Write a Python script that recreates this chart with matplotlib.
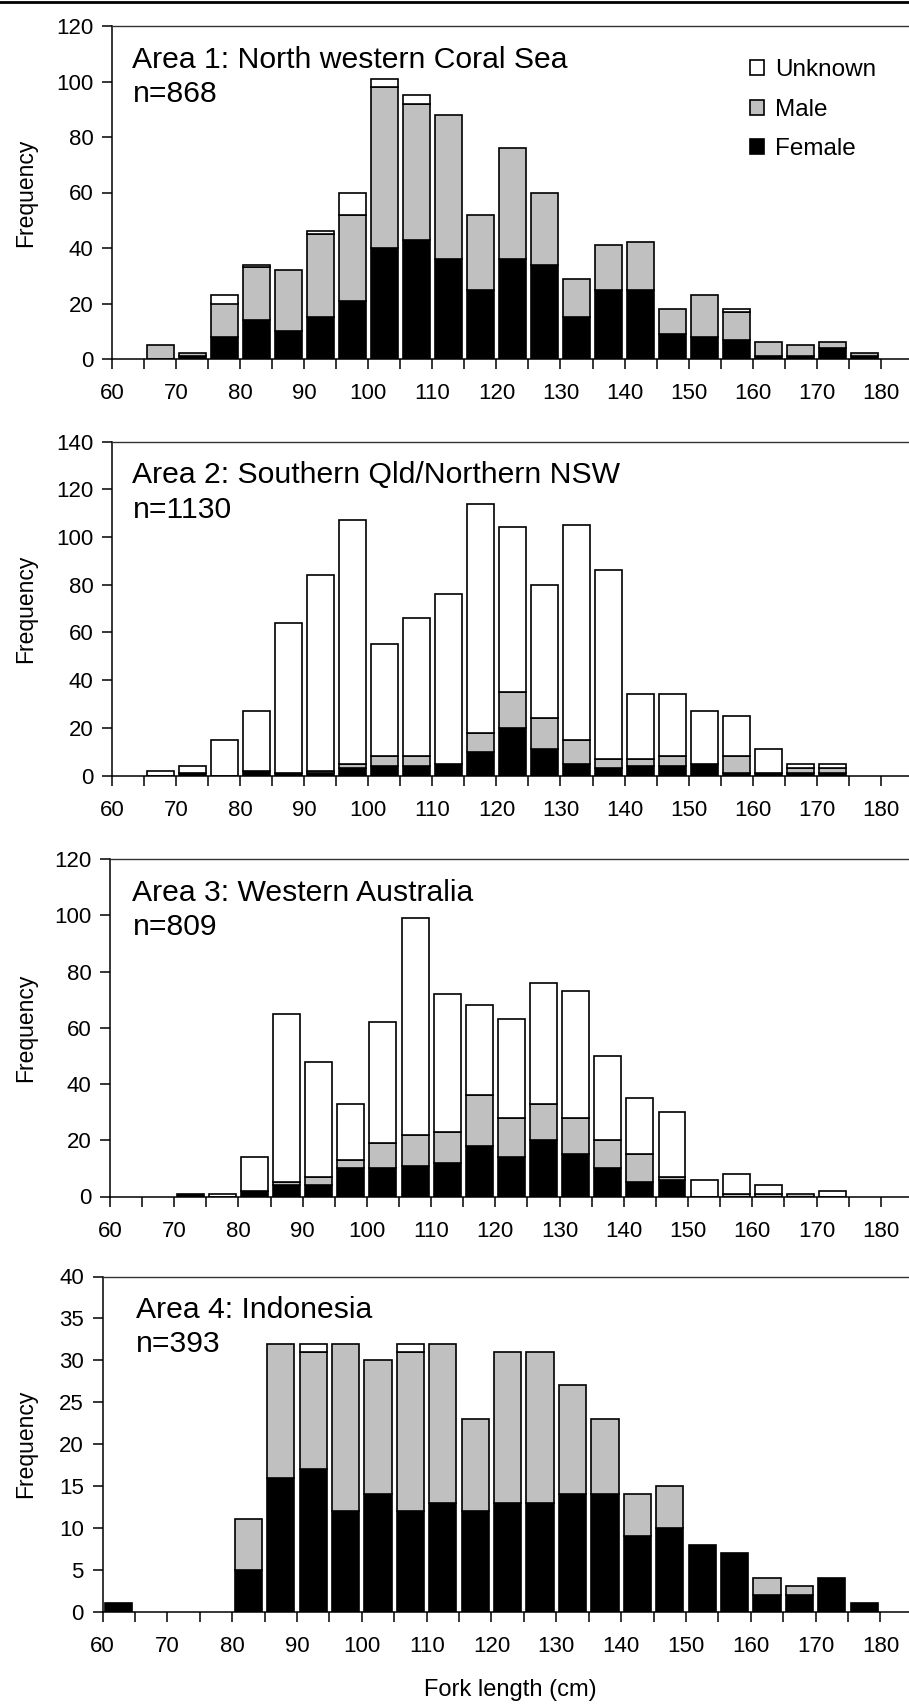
import numpy as np
import matplotlib.pyplot as plt
from matplotlib.patches import Patch
from matplotlib.lines import Line2D

plt.rcParams['font.family'] = ['Liberation Sans', 'DejaVu Sans']

# lower edge of each 5 cm fork length class
classes = [60, 65, 70, 75, 80, 85, 90, 95, 100, 105, 110, 115,
           120, 125, 130, 135, 140, 145, 150, 155, 160, 165, 170, 175]

# Area 1: North western Coral Sea
female1 = [0, 0, 1, 8, 14, 10, 15, 21, 40, 43, 36, 25, 36, 34, 15, 25, 25, 9, 8, 7, 1, 1, 4, 1]
male1 = [0, 5, 1, 12, 19, 22, 30, 31, 58, 49, 52, 27, 40, 26, 14, 16, 17, 9, 15, 10, 5, 4, 2, 1]
unknown1 = [0, 0, 0, 3, 1, 0, 1, 8, 3, 3, 0, 0, 0, 0, 0, 0, 0, 0, 0, 1, 0, 0, 0, 0]

# Area 2: Southern Qld/Northern NSW
female2 = [0, 0, 1, 0, 2, 1, 1, 3, 4, 4, 5, 10, 20, 11, 5, 3, 4, 4, 5, 1, 1, 1, 1, 0]
male2 = [0, 0, 0, 0, 0, 0, 1, 2, 4, 4, 0, 8, 15, 13, 10, 4, 3, 4, 0, 7, 0, 2, 2, 0]
unknown2 = [0, 2, 3, 15, 25, 63, 82, 102, 47, 58, 71, 96, 69, 56, 90, 79, 27, 26, 22, 17, 10, 2, 2, 0]

# Area 3: Western Australia
female3 = [0, 0, 1, 0, 2, 4, 4, 10, 10, 11, 12, 18, 14, 20, 15, 10, 5, 6, 0, 0, 0, 0, 0, 0]
male3 = [0, 0, 0, 0, 0, 1, 3, 3, 9, 11, 11, 18, 14, 13, 13, 10, 10, 1, 0, 1, 1, 1, 0, 0]
unknown3 = [0, 0, 0, 1, 12, 60, 41, 20, 43, 77, 49, 32, 35, 43, 45, 30, 20, 23, 6, 7, 3, 0, 2, 0]

# Area 4: Indonesia
female4 = [1, 0, 0, 0, 5, 16, 17, 12, 14, 12, 13, 12, 13, 13, 14, 14, 9, 10, 8, 7, 2, 2, 4, 1]
male4 = [0, 0, 0, 0, 6, 16, 14, 20, 16, 19, 19, 11, 18, 18, 13, 9, 5, 5, 0, 0, 2, 1, 0, 0]
unknown4 = [0, 0, 0, 0, 0, 0, 1, 0, 0, 1, 0, 0, 0, 0, 0, 0, 0, 0, 0, 0, 0, 0, 0, 0]

titles = ['Area 1: North western Coral Sea', 'Area 2: Southern Qld/Northern NSW',
          'Area 3: Western Australia', 'Area 4: Indonesia']
sample_sizes = ['n=868', 'n=1130', 'n=809', 'n=393']
ymax = [120, 140, 120, 40]
ystep = [20, 20, 20, 5]
series = [(female1, male1, unknown1), (female2, male2, unknown2),
          (female3, male3, unknown3), (female4, male4, unknown4)]

W, H = 909, 1704
fig = plt.figure(figsize=(W / 100, H / 100), dpi=100)

# rule across the top of the page
fig.add_artist(Line2D([0, 1], [1 - 1.5 / H, 1 - 1.5 / H], color='black', linewidth=2))

# axes boxes in pixels: left, top, bottom
boxes = [(112, 26, 359), (112, 441.5, 775.5), (110, 859, 1196.5), (102.5, 1276.5, 1611.5)]
text_x = [132.5, 132.5, 132.5, 135.5]

colours = ['black', '#c0c0c0', 'white']
centres = np.array(classes) + 2.5

for i, (left, top, bottom) in enumerate(boxes):
    ax = fig.add_axes([left / W, 1 - bottom / H, 1 - left / W, (bottom - top) / H])
    base = np.zeros(len(classes))
    for vals, col in zip(series[i], colours):
        vals = np.array(vals, dtype=float)
        keep = vals > 0
        ax.bar(centres[keep], vals[keep], width=4.2, bottom=base[keep], color=col,
               edgecolor='black', linewidth=1.2, zorder=2)
        base = base + vals

    ax.set_xlim(60, 184.4)
    ax.set_ylim(0, ymax[i])
    ax.set_xticks(range(60, 181, 10))
    ax.set_xticks(range(65, 180, 10), minor=True)
    ax.set_yticks(range(0, ymax[i] + 1, ystep[i]))
    ax.tick_params(axis='both', which='both', direction='out', width=1.1, labelsize=16)
    ax.tick_params(axis='x', which='both', length=7.5, pad=10)
    ax.tick_params(axis='y', length=7, pad=6.5)
    ax.spines['right'].set_visible(False)
    for s in ['left', 'bottom']:
        ax.spines[s].set_linewidth(1.1)
    ax.spines['top'].set_linewidth(1.0)
    ax.spines['top'].set_color('#333333')

    fig.text(text_x[i] / W, 1 - (top + 42) / H, titles[i], fontsize=21.7, va='baseline')
    fig.text(text_x[i] / W, 1 - (top + 76) / H, sample_sizes[i], fontsize=21.7, va='baseline')
    fig.text(26 / W, 1 - (top + bottom) / 2 / H, 'Frequency', rotation=90,
             ha='center', va='center', fontsize=16.5)

    if i == 0:
        handles = [Patch(facecolor=c, edgecolor='black', linewidth=1.2)
                   for c in ['white', '#c0c0c0', 'black']]
        ax.legend(handles, ['Unknown', 'Male', 'Female'], loc='upper left',
                  bbox_to_anchor=(0.80, 0.90), frameon=False, fontsize=17.5,
                  handlelength=0.6, handleheight=0.6, handletextpad=0.45,
                  labelspacing=0.72, borderpad=0, borderaxespad=0)

fig.text(510 / W, 1 - 1690 / H, 'Fork length (cm)', ha='center', va='center', fontsize=17)

fig.savefig('out.png', dpi=100)
